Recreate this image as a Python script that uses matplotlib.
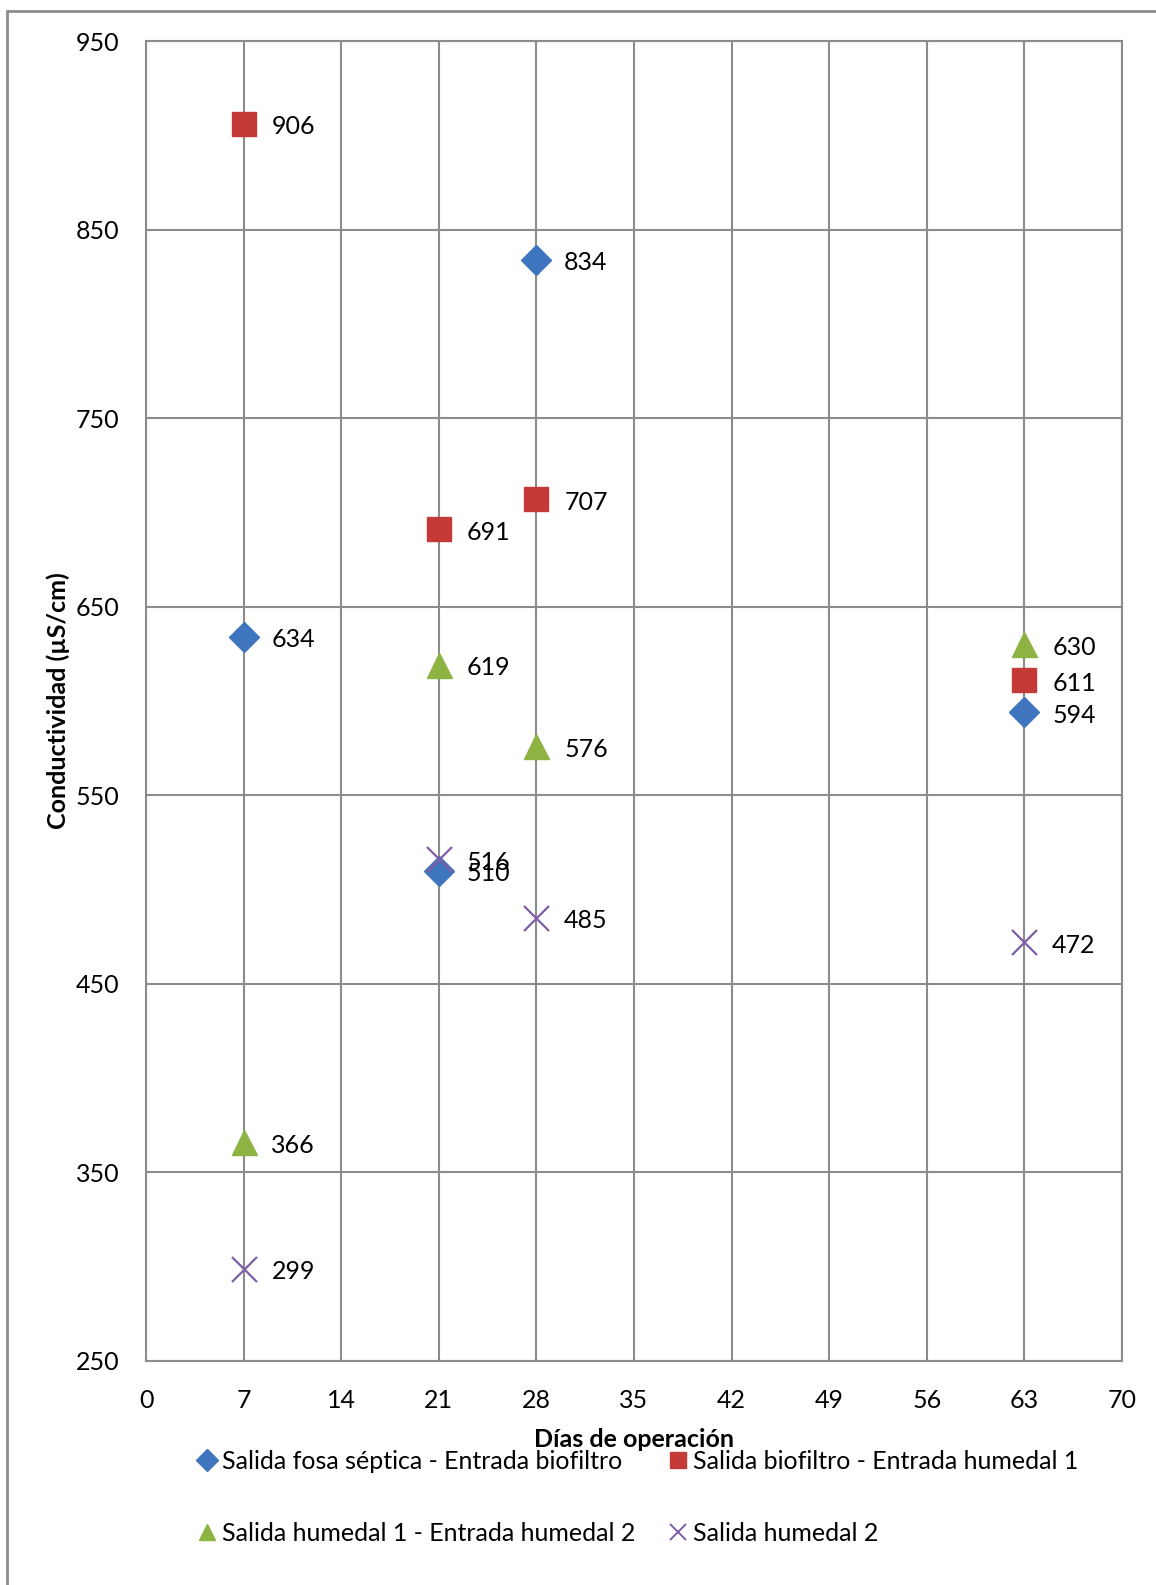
import matplotlib
matplotlib.use("Agg")
import matplotlib.pyplot as plt
from matplotlib.patches import Rectangle
from matplotlib.lines import Line2D

plt.rcParams['font.family'] = ['Lato', 'DejaVu Sans']

dias = [7, 21, 28, 63]
fosa_septica = [634, 510, 834, 594]
biofiltro = [906, 691, 707, 611]
humedal1 = [366, 619, 576, 630]
humedal2 = [299, 516, 485, 472]

series = [
    ("Salida fosa séptica - Entrada biofiltro", fosa_septica, "D", "#3F75BF", 15),
    ("Salida biofiltro - Entrada humedal 1", biofiltro, "s", "#C43A37", 17),
    ("Salida humedal 1 - Entrada humedal 2", humedal1, "^", "#8DB443", 18),
    ("Salida humedal 2", humedal2, "x", "#7E5FA6", 18),
]

x_ticks = list(range(0, 71, 7))
y_ticks = list(range(250, 951, 100))

W, H = 1156, 1585
FS = 18
fig = plt.figure(figsize=(W / 100, H / 100), dpi=100)
ax = fig.add_axes([146 / W, 1 - 1361 / H, (1122 - 146) / W, (1361 - 41) / H])

grid_c = "#8C8C8C"
ax.set_xlim(0, 70)
ax.set_ylim(250, 950)
ax.set_xticks(x_ticks)
ax.set_yticks(y_ticks)
ax.grid(True, color=grid_c, linewidth=1.5)
ax.set_axisbelow(True)
for s in ax.spines.values():
    s.set_color(grid_c)
    s.set_linewidth(1.5)
ax.tick_params(axis="y", length=0, labelsize=FS, pad=19)
ax.tick_params(axis="x", length=0, labelsize=FS, pad=20)

handles = []
for name, vals, mk, col, ms in series:
    if mk == "x":
        ax.plot(dias, vals, linestyle="none", marker=mk, color=col,
                markersize=ms, markeredgewidth=1.6, zorder=3)
    else:
        ax.plot(dias, vals, linestyle="none", marker=mk, color=col,
                markersize=ms, markeredgecolor=col, zorder=3)
    for d, v in zip(dias, vals):
        ax.annotate(str(v), (d, v), xytext=(20, -2), textcoords="offset points",
                    va="center", ha="left", fontsize=FS, color="black")
    handles.append(Line2D([], [], linestyle="none", marker=mk, color=col,
                          markersize=11 if mk != "x" else 12,
                          markeredgewidth=1.4 if mk == "x" else 1,
                          label=name))

ax.set_xlabel("Días de operación", fontsize=FS, fontweight="bold", labelpad=12)
ax.set_ylabel("Conductividad (µS/cm)", fontsize=FS, fontweight="bold", labelpad=4)

fig.legend(handles=[handles[0], handles[2], handles[1], handles[3]],
           loc="upper left", bbox_to_anchor=(200 / W, 1 - 1450 / H),
           ncol=2, frameon=False, fontsize=FS, handlelength=0.6,
           handletextpad=0.3, columnspacing=1.4, labelspacing=1.95,
           borderaxespad=0, borderpad=0)

fig.patches.append(Rectangle((7 / W, -0.05), 1.2, 1.05 - 11 / H,
                             transform=fig.transFigure, fill=False,
                             edgecolor="#8C8C8C", linewidth=2))

fig.savefig("out.png", dpi=100)
